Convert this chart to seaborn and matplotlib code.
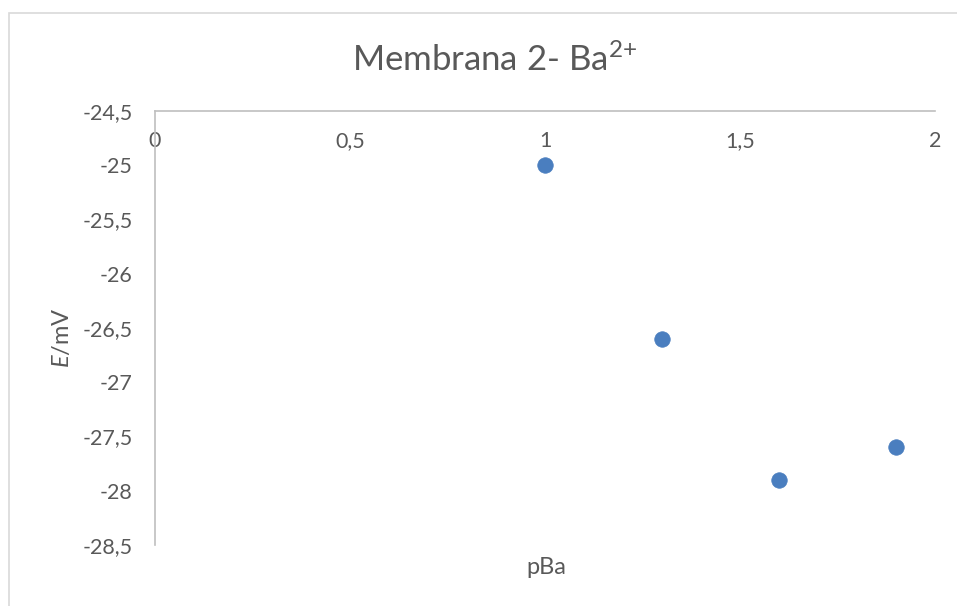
import matplotlib
matplotlib.use("Agg")
import matplotlib.pyplot as plt
import seaborn as sns
import pandas as pd
from matplotlib.ticker import FuncFormatter

pBa = [1.0, 1.3, 1.6, 1.9]
E_mV = [-25.0, -26.6, -27.9, -27.6]
x_ticks = [0, 0.5, 1, 1.5, 2]
y_ticks = [-24.5, -25, -25.5, -26, -26.5, -27, -27.5, -28, -28.5]

sns.set_theme(style="white")
plt.rcParams['font.family'] = ['Lato', 'DejaVu Sans']
plt.rcParams['mathtext.fontset'] = 'custom'
plt.rcParams['mathtext.rm'] = 'Lato'
plt.rcParams['mathtext.it'] = 'Lato:italic'

df = pd.DataFrame({"pBa": pBa, "E": E_mV})

fig = plt.figure(figsize=(9.57, 6.06), dpi=100)
# outer chart border (partially visible)
fig.add_artist(plt.Rectangle((9/957, -0.1), 1.0, 1 - 13/606 + 0.1, transform=fig.transFigure,
                             fill=False, edgecolor="#D9D9D9", linewidth=1.2))
ax = fig.add_axes([155/957, 1 - 545/606, 780/957, 434/606])
sns.scatterplot(data=df, x="pBa", y="E", ax=ax, s=125, color="#4A7EBF", edgecolor="#4A7EBF",
                linewidth=0.5, zorder=3, legend=False)
ax.set_xlim(0, 2)
ax.set_ylim(-28.5, -24.5)
ax.set_xticks(x_ticks)
ax.set_yticks(y_ticks)
fmt = FuncFormatter(lambda v, p: ("%g" % v).replace(".", ","))
ax.xaxis.set_major_formatter(fmt)
ax.yaxis.set_major_formatter(fmt)
for s in ["right", "bottom"]:
    ax.spines[s].set_visible(False)
for s in ["top", "left"]:
    ax.spines[s].set_color("#BFBFBF")
    ax.spines[s].set_linewidth(1.2)
ax.xaxis.tick_top()
ax.tick_params(axis="both", length=0, labelsize=15.5, labelcolor="#595959")
ax.tick_params(axis="x", pad=-29)
ax.tick_params(axis="y", pad=16)
ax.set_xlabel("")
ax.set_ylabel("")
fig.text(546/957, 1 - 568/606, "pBa", ha="center", va="center", fontsize=17, color="#595959")
fig.text(62/957, 1 - 338/606, "$E$/mV", ha="center", va="center", rotation=90, fontsize=17, color="#595959")
fig.text(495/957, 1 - 60/606, r"Membrana 2- Ba$^{\text{2+}}$", ha="center", va="center", fontsize=25, color="#595959")
ax.grid(False)
fig.savefig("out.png", dpi=100)
